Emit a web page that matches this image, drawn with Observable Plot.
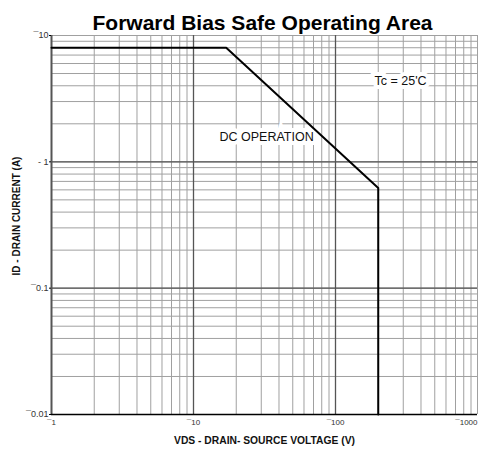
<!DOCTYPE html>
<html><head><meta charset="utf-8">
<script src="https://cdn.jsdelivr.net/npm/d3@7"></script>
<script src="https://cdn.jsdelivr.net/npm/@observablehq/plot@0.6"></script>
<style>body{margin:0;background:#fff;font-family:"Liberation Sans",Arial,sans-serif}</style>
</head><body><div id="chart"></div>
<script>
const voltage = [1, 17, 200, 200];
const current = [8, 8, 0.62, 0.01];
const xTicks = [1, 10, 100];
const xTickLabels = ["¯1", "¯10", "¯100"];
const xLastTick = [1000];
const xLastLabel = ["¯1000"];
const yTicks = [10, 1, 0.1, 0.01];
const yTickLabels = ["¯10", "- 1", "¯0.1", "¯0.01"];
const xDecades = [10, 100];
const yDecades = [1, 0.1];
const annX = [32.7, 287], annY = [1.56, 4.4], annText = ["DC OPERATION", "Tc = 25'C"];

const line = voltage.map((v, i) => ({v, c: current[i]}));
const xMinor = d3.scaleLog().domain([1, 1000]).ticks();
const yMinor = d3.scaleLog().domain([0.01, 10]).ticks();
const ann = annX.map((x, i) => ({x, y: annY[i], t: annText[i]}));

const chart = Plot.plot({
  width: 487, height: 450,
  marginLeft: 51, marginRight: 10, marginTop: 35, marginBottom: 36,
  style: {fontFamily: "'Liberation Sans', Arial, sans-serif", background: "#fff"},
  x: {type: "log", domain: [1, 1000], axis: null},
  y: {type: "log", domain: [0.01, 10]},
  marks: [
    Plot.ruleX(xMinor, {stroke: "#a0a0a0", strokeWidth: 1}),
    Plot.ruleY(yMinor, {stroke: "#a0a0a0", strokeWidth: 1}),
    Plot.ruleX(xDecades, {stroke: "#555", strokeWidth: 1.3}),
    Plot.ruleY(yDecades, {stroke: "#555", strokeWidth: 1.3}),
    Plot.ruleX([1], {stroke: "#555", strokeWidth: 2}),
    Plot.ruleY([0.01], {stroke: "#000", strokeWidth: 1.5}),
    Plot.text(ann, {x: "x", y: "y", text: "t", fontSize: 12.5, fill: "#111", stroke: "white", strokeWidth: 8, strokeLinejoin: "miter", textAnchor: "middle"}),
    Plot.line(line, {x: "v", y: "c", stroke: "#000", strokeWidth: 2}),
    Plot.axisY({ticks: yTicks, tickFormat: (d) => yTickLabels[yTicks.indexOf(d)], tickSize: 2, tickPadding: 1, fontSize: 9, fill: "#333", label: null}),
    Plot.text(xTicks, {x: d => d, frameAnchor: "bottom", dy: 10, text: (d, i) => xTickLabels[i], fontSize: 8, fill: "#333", textAnchor: "middle"}),
    Plot.text(xLastTick, {x: d => d, frameAnchor: "bottom", dy: 10, text: (d, i) => xLastLabel[i], fontSize: 8, fill: "#333", textAnchor: "end"}),
    Plot.text(["VDS - DRAIN- SOURCE VOLTAGE (V)"], {frameAnchor: "bottom", dy: 29, text: d => d, fontSize: 10.3, fontWeight: "bold", fill: "#111", textAnchor: "middle"}),
    Plot.text(["ID - DRAIN CURRENT (A)"], {frameAnchor: "left", dx: -35, dy: -9, rotate: -90, text: d => d, fontSize: 10, fontWeight: "bold", fill: "#111", textAnchor: "middle"}),
    Plot.text(["Forward Bias Safe Operating Area"], {frameAnchor: "top", dy: -20, dx: -2, text: d => d, fontSize: 21, fontWeight: "bold", fill: "#000", textAnchor: "middle"})
  ]
});
document.getElementById("chart").appendChild(chart);
</script></body></html>
